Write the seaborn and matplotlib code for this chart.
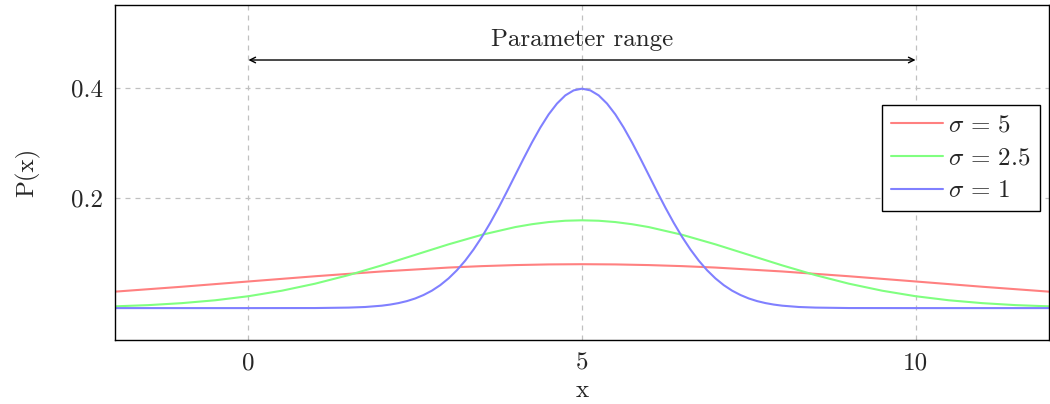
import pandas as pd
import seaborn as sns
import matplotlib.pyplot as plt

# values (mean 5, one curve per sigma)
sigma_labels = [r"$\sigma\,=\,5$", r"$\sigma\,=\,2.5$", r"$\sigma\,=\,1$"]
line_colors = ["#ff8080", "#80ff80", "#8080ff"]

x_s5 = [-2, -1, 0, 1, 2, 3, 3.5, 4, 4.5, 5, 5.5, 6, 6.5, 7, 8, 9, 10, 11, 12]
y_s5 = [0.0299, 0.0388, 0.0484, 0.0579, 0.0666, 0.0737, 0.0763, 0.0782,
        0.0794, 0.0798, 0.0794, 0.0782, 0.0763, 0.0737, 0.0666, 0.0579,
        0.0484, 0.0388, 0.0299]

x_s25 = [-2, -1.5, -1, -0.5, 0, 0.5, 1, 1.5, 2, 2.5, 3, 3.5, 4, 4.25, 4.5,
         4.75, 5, 5.25, 5.5, 5.75, 6, 6.5, 7, 7.5, 8, 8.5, 9, 9.5, 10, 10.5,
         11, 11.5, 12]
y_s25 = [0.0032, 0.0054, 0.0090, 0.0142, 0.0216, 0.0316, 0.0444, 0.0599,
         0.0777, 0.0968, 0.1159, 0.1333, 0.1473, 0.1525, 0.1564, 0.1588,
         0.1596, 0.1588, 0.1564, 0.1525, 0.1473, 0.1333, 0.1159, 0.0968,
         0.0777, 0.0599, 0.0444, 0.0316, 0.0216, 0.0142, 0.0090, 0.0054,
         0.0032]

x_s1 = [-2, 0, 1, 1.5, 1.75, 2, 2.125, 2.25, 2.375, 2.5, 2.625, 2.75,
        2.875, 3, 3.125, 3.25, 3.375, 3.5, 3.625, 3.75, 3.875, 4, 4.125,
        4.25, 4.375, 4.5, 4.625, 4.75, 4.875, 5, 5.125, 5.25, 5.375, 5.5,
        5.625, 5.75, 5.875, 6, 6.125, 6.25, 6.375, 6.5, 6.625, 6.75, 6.875,
        7, 7.125, 7.25, 7.375, 7.5, 7.625, 7.75, 7.875, 8, 8.25, 8.5, 9,
        10, 12]
y_s1 = [0.0, 0.0, 0.0001, 0.0009, 0.0020, 0.0044, 0.0064, 0.0091, 0.0127,
        0.0175, 0.0238, 0.0317, 0.0417, 0.0540, 0.0688, 0.0863, 0.1066,
        0.1295, 0.1550, 0.1826, 0.2119, 0.2420, 0.2720, 0.3011, 0.3281,
        0.3521, 0.3718, 0.3867, 0.3958, 0.3989, 0.3958, 0.3867, 0.3718,
        0.3521, 0.3281, 0.3011, 0.2720, 0.2420, 0.2119, 0.1826, 0.1550,
        0.1295, 0.1066, 0.0863, 0.0688, 0.0540, 0.0417, 0.0317, 0.0238,
        0.0175, 0.0127, 0.0091, 0.0064, 0.0044, 0.0020, 0.0009, 0.0001,
        0.0, 0.0]

x_ticks = [0, 5, 10]
y_ticks = [0.2, 0.4]

frames = []
for lab, xs, ys in zip(sigma_labels, [x_s5, x_s25, x_s1], [y_s5, y_s25, y_s1]):
    frames.append(pd.DataFrame({"x": xs, "p": ys, "series": lab}))
df = pd.concat(frames, ignore_index=True)

sns.set_style("white")
plt.rcParams["font.family"] = ["cmr10", "DejaVu Serif"]
plt.rcParams["mathtext.fontset"] = "cm"
plt.rcParams["axes.unicode_minus"] = False

fig = plt.figure(figsize=(10.5, 4.04), dpi=100)
ax = fig.add_axes([115 / 1050, 64 / 404, 934 / 1050, 335 / 404])

sns.lineplot(data=df, x="x", y="p", hue="series", hue_order=sigma_labels,
             palette=dict(zip(sigma_labels, line_colors)), sort=False,
             linewidth=1.5, ax=ax)

ax.set_xlim(-2, 12)
ax.set_ylim(-0.058, 0.551)
ax.set_xticks(x_ticks)
ax.set_xticklabels([str(t) for t in x_ticks])
ax.set_yticks(y_ticks)
ax.set_yticklabels([str(t) for t in y_ticks])
ax.tick_params(direction="in", length=5, color="#a0a0a0", labelsize=18,
               pad=9)
ax.grid(True, linestyle=(0, (4, 4)), color="#c0c0c0", linewidth=0.9)
for sp in ax.spines.values():
    sp.set_color("black")
    sp.set_linewidth(1.0)

ax.set_xlabel("x", fontsize=18, labelpad=4)
ax.set_ylabel("P(x)", fontsize=18, labelpad=22)

ax.annotate("", xy=(0, 0.451), xytext=(10, 0.451),
            arrowprops=dict(arrowstyle="<->", color="black", lw=1.0,
                            shrinkA=0, shrinkB=0))
ax.text(5, 0.487, "Parameter range", ha="center", va="center", fontsize=18)

leg = ax.legend(loc="upper right", bbox_to_anchor=(0.990, 0.701),
                fontsize=18, frameon=True, fancybox=False, framealpha=1,
                edgecolor="black", handlelength=2.1, borderpad=0.35,
                labelspacing=0.42, handletextpad=0.2, borderaxespad=0)
leg.get_frame().set_linewidth(1.0)

fig.savefig("out.png", dpi=100)
